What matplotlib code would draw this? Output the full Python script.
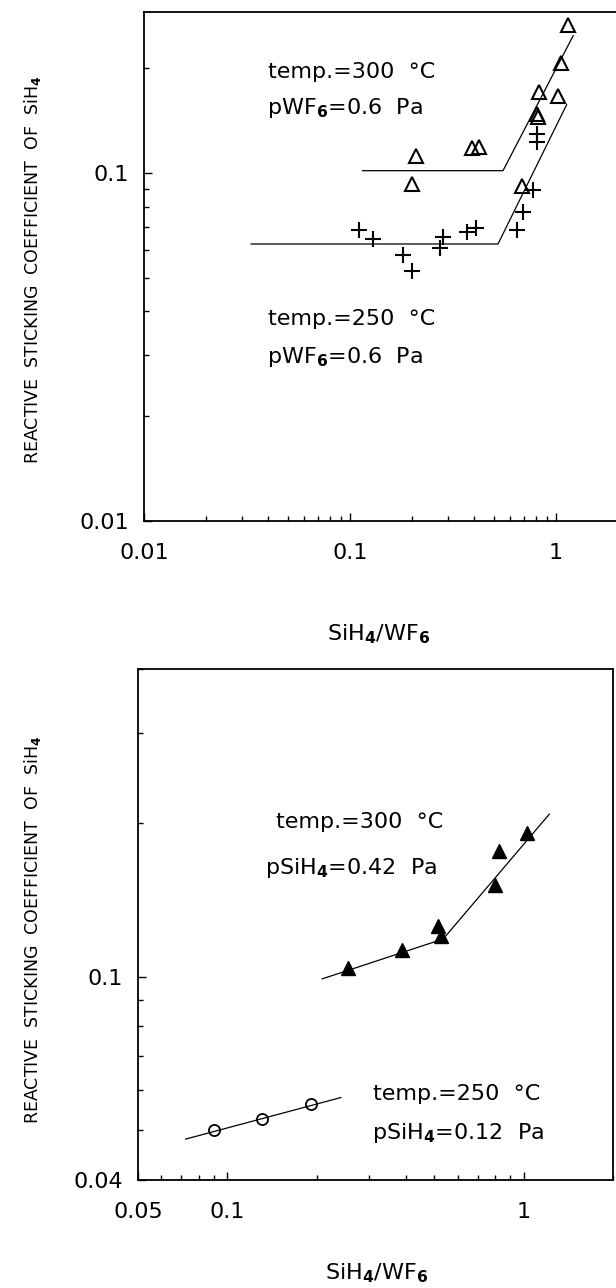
import matplotlib
matplotlib.use("Agg")
import matplotlib.pyplot as plt
from matplotlib.ticker import LogLocator, FixedLocator, FixedFormatter, NullFormatter

plt.rcParams['font.family'] = ['DejaVu Sans']
plt.rcParams['mathtext.default'] = 'regular'

# ---------------- data: top panel (pWF6 = 0.6 Pa) ----------------
t300_x = [1.147, 1.053, 0.831, 1.026, 0.807, 0.816, 0.392, 0.421, 0.210, 0.199, 0.683]
t300_y = [0.266, 0.207, 0.171, 0.166, 0.148, 0.145, 0.118, 0.119, 0.112, 0.093, 0.092]
t250_x = [0.807, 0.807, 0.777, 0.695, 0.646, 0.111, 0.130, 0.181, 0.201, 0.284, 0.273, 0.368, 0.411]
t250_y = [0.129, 0.123, 0.0894, 0.0774, 0.0686, 0.0686, 0.0645, 0.0581, 0.0524, 0.0656, 0.0608, 0.0675, 0.0693]
fit300_top_x = [0.115, 0.553, 1.212]
fit300_top_y = [0.1015, 0.1015, 0.248]
fit250_top_x = [0.0331, 0.523, 1.126]
fit250_top_y = [0.0625, 0.0625, 0.157]

# ---------------- data: bottom panel (pSiH4 varied) ----------------
b300_x = [1.026, 0.824, 0.797, 0.512, 0.525, 0.389, 0.2546]
b300_y = [0.191, 0.176, 0.151, 0.1255, 0.120, 0.113, 0.104]
b250_x = [0.0902, 0.1313, 0.191]
b250_y = [0.0501, 0.0527, 0.0564]
fit300_bot_x = [0.209, 0.535, 1.22]
fit300_bot_y = [0.099, 0.1185, 0.208]
fit250_bot_x = [0.0724, 0.2417]
fit250_bot_y = [0.0481, 0.058]

top_xticks = [0.01, 0.1, 1]
top_xlabels = ['0.01', '0.1', '1']
top_yticks = [0.01, 0.1]
top_ylabels = ['0.01', '0.1']
bot_xticks = [0.05, 0.1, 1]
bot_xlabels = ['0.05', '0.1', '1']
bot_yticks = [0.04, 0.1]
bot_ylabels = ['0.04', '0.1']

W, H = 616, 1288
fig = plt.figure(figsize=(W / 100, H / 100), dpi=100)

def px_axes(l, t, r, b):
    return fig.add_axes([l / W, 1 - b / H, (r - l) / W, (b - t) / H])

ax1 = px_axes(144, 12, 618, 521)
ax2 = px_axes(138, 669, 613, 1180)

FS = 16
for ax in (ax1, ax2):
    ax.set_xscale('log')
    ax.set_yscale('log')
    for s in ax.spines.values():
        s.set_linewidth(1.3)
    ax.tick_params(which='both', direction='in', top=False, right=False,
                   labelsize=FS, width=1.0)
    ax.tick_params(which='major', length=6)
    ax.tick_params(which='minor', length=3.5)
    ax.tick_params(axis='x', which='both', pad=16)
    ax.tick_params(axis='y', which='both', pad=11)
    ax.xaxis.set_minor_locator(LogLocator(base=10, subs=range(2, 10), numticks=20))
    ax.yaxis.set_minor_locator(LogLocator(base=10, subs=range(2, 10), numticks=20))
    ax.xaxis.set_minor_formatter(NullFormatter())
    ax.yaxis.set_minor_formatter(NullFormatter())

# top panel
ax1.set_xlim(0.01, 2.0)
ax1.set_ylim(0.01, 0.29)
ax1.xaxis.set_major_locator(FixedLocator(top_xticks))
ax1.xaxis.set_major_formatter(FixedFormatter(top_xlabels))
ax1.yaxis.set_major_locator(FixedLocator(top_yticks))
ax1.yaxis.set_major_formatter(FixedFormatter(top_ylabels))
ax1.plot(fit300_top_x, fit300_top_y, color='black', lw=0.9)
ax1.plot(fit250_top_x, fit250_top_y, color='black', lw=0.9)
ax1.plot(t300_x, t300_y, linestyle='none', marker='^', ms=10, mfc='none',
         mec='black', mew=1.5)
ax1.plot(t250_x, t250_y, linestyle='none', marker='+', ms=12, mec='black', mew=1.5)

def ftext(x, y, s):
    fig.text(x / W, 1 - y / H, s, fontsize=FS, ha='left', va='center')

ftext(268, 72, 'temp.=300  °C')
ftext(267, 108, 'pWF$_\\mathbf{6}$=0.6  Pa')
ftext(268, 319, 'temp.=250  °C')
ftext(267, 357, 'pWF$_\\mathbf{6}$=0.6  Pa')

# bottom panel
ax2.set_xlim(0.05, 2.0)
ax2.set_ylim(0.04, 0.4)
ax2.xaxis.set_major_locator(FixedLocator(bot_xticks))
ax2.xaxis.set_major_formatter(FixedFormatter(bot_xlabels))
ax2.yaxis.set_major_locator(FixedLocator(bot_yticks))
ax2.yaxis.set_major_formatter(FixedFormatter(bot_ylabels))
ax2.plot(fit300_bot_x, fit300_bot_y, color='black', lw=0.9)
ax2.plot(fit250_bot_x, fit250_bot_y, color='black', lw=0.9)
ax2.plot(b300_x, b300_y, linestyle='none', marker='^', ms=10, mfc='black', mec='black')
ax2.plot(b250_x, b250_y, linestyle='none', marker='o', ms=8, mfc='none',
         mec='black', mew=1.3)

ftext(276, 822, 'temp.=300  °C')
ftext(265, 868, 'pSiH$_\\mathbf{4}$=0.42  Pa')
ftext(373, 1094, 'temp.=250  °C')
ftext(372, 1133, 'pSiH$_\\mathbf{4}$=0.12  Pa')

# axis labels
fig.text(379 / W, 1 - 634 / H, 'SiH$_\\mathbf{4}$/WF$_\\mathbf{6}$', fontsize=FS,
         ha='center', va='center')
fig.text(377 / W, 1 - 1273 / H, 'SiH$_\\mathbf{4}$/WF$_\\mathbf{6}$', fontsize=FS,
         ha='center', va='center')
ylab = 'REACTIVE  STICKING  COEFFICIENT  OF  SiH$_\\mathbf{4}$'
fig.text(33 / W, 1 - 270 / H, ylab, fontsize=12.5, rotation=90, ha='center', va='center')
fig.text(33 / W, 1 - 930 / H, ylab, fontsize=12.5, rotation=90, ha='center', va='center')

fig.savefig('out.png', dpi=100)
